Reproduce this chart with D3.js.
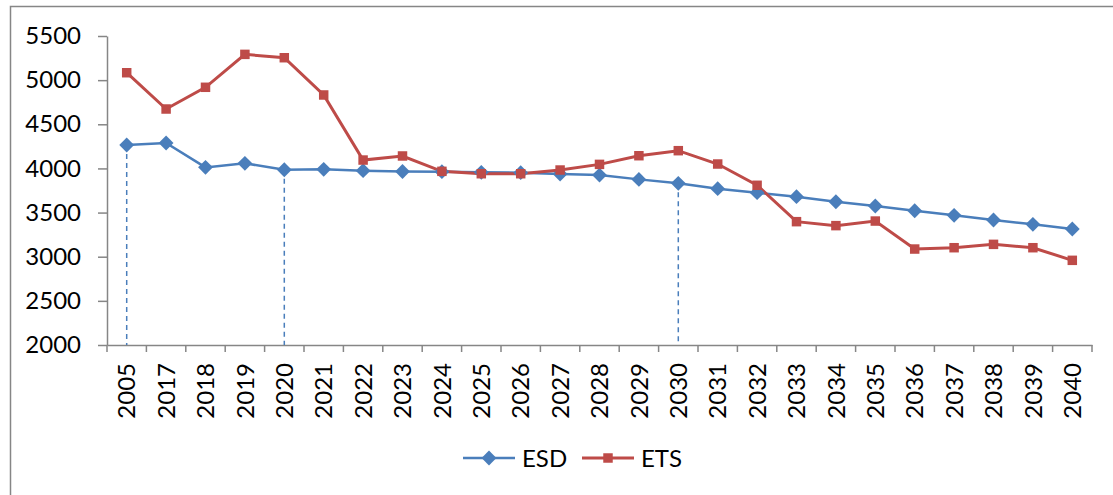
<!DOCTYPE html>
<html>
<head>
<meta charset="utf-8">
<script src="https://cdn.jsdelivr.net/npm/d3@7"></script>
<style>
  body { margin: 0; background: #fff; }
  svg { display: block; }
  text { font-family: Lato, "Open Sans", sans-serif; fill: #000; }
</style>
</head>
<body>
<div id="chart"></div>
<script>
// Categories and series
const years = ['2005', '2017', '2018', '2019', '2020', '2021', '2022', '2023', '2024', '2025',
  '2026', '2027', '2028', '2029', '2030', '2031', '2032', '2033', '2034', '2035',
  '2036', '2037', '2038', '2039', '2040'];
const esd = [4265, 4288, 4012, 4058, 3985, 3990, 3975, 3965, 3963, 3956,
  3952, 3937, 3925, 3876, 3831, 3771, 3725, 3680, 3623, 3574,
  3521, 3469, 3416, 3367, 3314];
const ets = [5084, 4673, 4919, 5292, 5254, 4832, 4095, 4141, 3967, 3940,
  3940, 3982, 4046, 4144, 4201, 4050, 3809, 3397, 3352, 3404,
  3087, 3102, 3140, 3102, 2959];
const dropYears = ['2005', '2020', '2030'];
const yTicks = [2000, 2500, 3000, 3500, 4000, 4500, 5000, 5500];

const width = 1113, height = 495;
const margin = { top: 36, left: 107, right: 21, bottom: 150 };
const blue = '#4a7ebb', red = '#be4b48', axisColor = '#868686';
const fontSize = '24px';

const svg = d3.select('#chart')
  .append('svg')
    .attr('width', width)
    .attr('height', height);

// outer frame (runs off the right and bottom of the picture)
svg.append('rect')
  .attr('x', 10.5).attr('y', 6.5)
  .attr('width', width + 20).attr('height', height + 20)
  .attr('fill', 'none')
  .attr('stroke', axisColor)
  .attr('stroke-width', 1.5);

// Scales
const xScale = d3.scaleBand()
  .domain(years)
  .range([margin.left, width - margin.right]);

const yScale = d3.scaleLinear()
  .domain([2000, 5500])
  .range([345, margin.top]);

const cx = (y) => xScale(y) + xScale.bandwidth() / 2;

// Axes
const xAxis = svg.append('g')
  .attr('transform', `translate(0,${yScale(2000)})`)
  .call(d3.axisBottom(xScale).tickSize(7).tickSizeOuter(0).tickValues([]));

// band boundary ticks
xAxis.selectAll('.bound')
  .data(d3.range(years.length + 1))
  .join('line')
    .attr('x1', (i) => margin.left + i * xScale.step())
    .attr('x2', (i) => margin.left + i * xScale.step())
    .attr('y1', 0).attr('y2', 7)
    .attr('stroke', axisColor)
    .attr('stroke-width', 1.5);

xAxis.selectAll('.lbl')
  .data(years)
  .join('text')
    .attr('transform', (d) => `translate(${cx(d)},18) rotate(-90)`)
    .attr('text-anchor', 'end')
    .attr('dy', '0.36em')
    .style('font-size', fontSize)
    .text((d) => d);

const yAxis = svg.append('g')
  .attr('transform', `translate(${margin.left},0)`)
  .call(d3.axisLeft(yScale).tickValues(yTicks).tickFormat(d3.format('d'))
    .tickSize(9).tickSizeOuter(0).tickPadding(17));

yAxis.selectAll('text').style('font-size', fontSize);

svg.selectAll('.domain').attr('stroke', axisColor).attr('stroke-width', 1.5);
svg.selectAll('.tick line').attr('stroke', axisColor).attr('stroke-width', 1.5);

// Drop lines
svg.append('g')
  .selectAll('line')
  .data(dropYears)
  .join('line')
    .attr('x1', (d) => cx(d))
    .attr('x2', (d) => cx(d))
    .attr('y1', (d) => yScale(esd[years.indexOf(d)]))
    .attr('y2', yScale(2000))
    .attr('stroke', blue)
    .attr('stroke-width', 1.5)
    .attr('stroke-dasharray', '5,4');

// Lines
const line = d3.line()
  .x((d, i) => cx(years[i]))
  .y((d) => yScale(d));

svg.append('path')
  .datum(esd)
  .attr('d', line)
  .attr('fill', 'none')
  .attr('stroke', blue)
  .attr('stroke-width', 2.5);

svg.append('path')
  .datum(ets)
  .attr('d', line)
  .attr('fill', 'none')
  .attr('stroke', red)
  .attr('stroke-width', 3);

// Markers
const diamond = d3.symbol().type(d3.symbolSquare).size(110);
const square = d3.symbol().type(d3.symbolSquare).size(90);

svg.append('g')
  .selectAll('path')
  .data(esd)
  .join('path')
    .attr('transform', (d, i) => `translate(${cx(years[i])},${yScale(d)}) rotate(45)`)
    .attr('d', diamond)
    .attr('fill', blue);

svg.append('g')
  .selectAll('path')
  .data(ets)
  .join('path')
    .attr('transform', (d, i) => `translate(${cx(years[i])},${yScale(d)})`)
    .attr('d', square)
    .attr('fill', red);

// Legend
const legend = [
  { name: 'ESD', color: blue, x: 463, marker: 'diamond', w: 2.5 },
  { name: 'ETS', color: red, x: 582, marker: 'square', w: 3 }
];
const lg = svg.append('g').attr('transform', 'translate(0,458)');
legend.forEach((l) => {
  lg.append('line')
    .attr('x1', l.x).attr('x2', l.x + 52)
    .attr('y1', 0).attr('y2', 0)
    .attr('stroke', l.color).attr('stroke-width', l.w);
  lg.append('path')
    .attr('transform', `translate(${l.x + 26},0)` + (l.marker === 'diamond' ? ' rotate(45)' : ''))
    .attr('d', l.marker === 'diamond' ? diamond : square)
    .attr('fill', l.color);
  lg.append('text')
    .attr('x', l.x + 59)
    .attr('dy', '0.36em')
    .style('font-size', fontSize)
    .text(l.name);
});
</script>
</body>
</html>
